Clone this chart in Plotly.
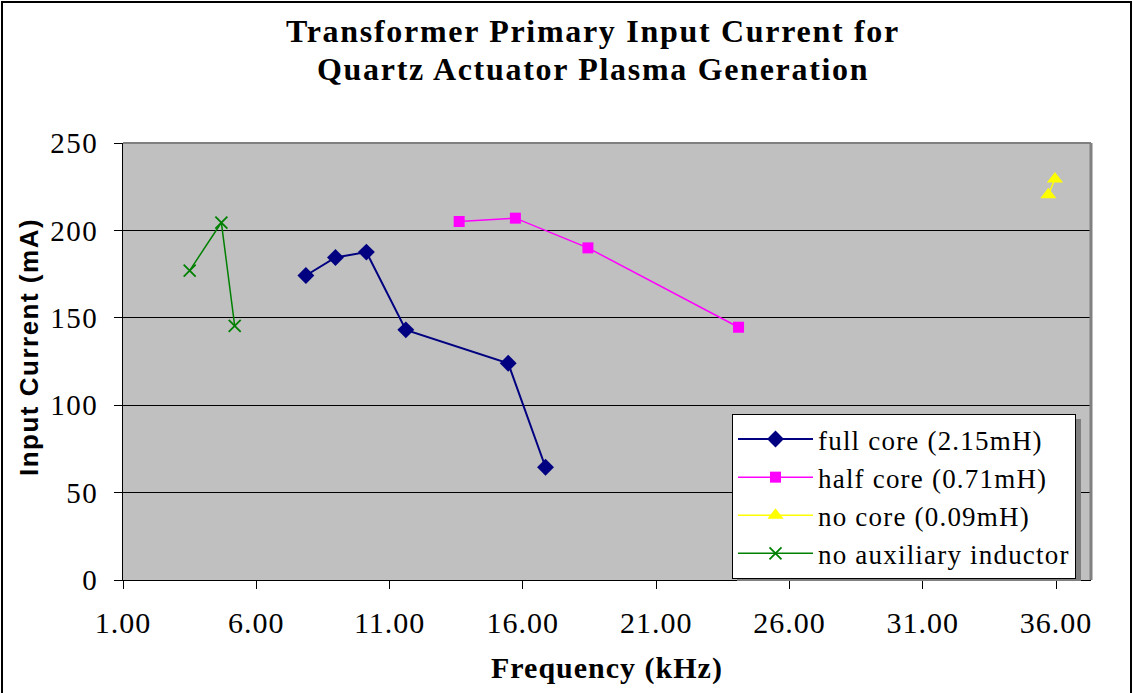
import plotly.graph_objects as go

# Data
full_core_x = [7.86, 8.97, 10.13, 11.61, 15.45, 16.85]
full_core_y = [174.2, 184.5, 187.6, 143.1, 124.0, 64.5]

half_core_x = [13.61, 15.72, 18.44, 24.09]
half_core_y = [205.1, 207.0, 190.0, 144.6]

no_core_x = [35.71, 35.96]
no_core_y = [220.4, 229.4]

no_aux_x = [3.50, 4.69, 5.19]
no_aux_y = [177.0, 204.5, 145.4]

x_ticks = [1, 6, 11, 16, 21, 26, 31, 36]
x_tick_labels = ["1.00", "6.00", "11.00", "16.00", "21.00", "26.00", "31.00", "36.00"]
y_ticks = [0, 50, 100, 150, 200, 250]
y_tick_labels = ["0", "50", "100", "150", "200", "250"]

series_names = ["full core (2.15mH)", "half core (0.71mH)", "no core (0.09mH)", "no auxiliary inductor"]
title_lines = ["Transformer Primary Input Current for", "Quartz Actuator Plasma Generation"]

SERIF = "Liberation Serif, Times New Roman, serif"
SANS = "Liberation Sans, Arial, sans-serif"

def ls(txt, px_):
    return '<span style="letter-spacing:%.1fpx">%s</span>' % (px_, txt)

fig = go.Figure()
fig.add_trace(go.Scatter(x=full_core_x, y=full_core_y, mode="lines+markers",
                         name=ls(series_names[0], 1.2),
                         line=dict(color="#000080", width=2),
                         marker=dict(symbol="diamond", size=13, color="#000080")))
fig.add_trace(go.Scatter(x=half_core_x, y=half_core_y, mode="lines+markers",
                         name=ls(series_names[1], 1.2),
                         line=dict(color="#FF00FF", width=1.5),
                         marker=dict(symbol="square", size=11, color="#FF00FF")))
fig.add_trace(go.Scatter(x=no_core_x, y=no_core_y, mode="lines+markers",
                         name=ls(series_names[2], 1.2),
                         line=dict(color="#FFFF00", width=1.5),
                         marker=dict(symbol="triangle-up", size=14, color="#FFFF00")))
fig.add_trace(go.Scatter(x=no_aux_x, y=no_aux_y, mode="lines+markers",
                         name=ls(series_names[3], 1.2),
                         line=dict(color="#008000", width=1.5),
                         marker=dict(symbol="x-thin", size=12, color="#008000",
                                     line=dict(color="#008000", width=1.8))))

L, R, T, B = 123, 42, 143, 113
W, H = 1133, 693
pw, ph = W - L - R, H - T - B

def px(xp):
    return (xp - L) / pw

def py(yp):
    return (H - B - yp) / ph

fig.update_layout(
    width=W, height=H,
    margin=dict(l=L, r=R, t=T, b=B, pad=0),
    paper_bgcolor="white",
    plot_bgcolor="#C0C0C0",
    xaxis=dict(range=[1, 1 + (1091 - 123.3) / 26.65], tickvals=x_ticks,
               ticktext=[ls(t, 1.0) for t in x_tick_labels],
               showgrid=False, zeroline=False, ticks="outside", ticklen=8, tickcolor="black",
               showline=True, linecolor="black", linewidth=1, ticklabelstandoff=8,
               tickfont=dict(family=SERIF, size=30, color="black")),
    yaxis=dict(range=[0, 250], tickvals=y_ticks, ticktext=[ls(t, 1.5) for t in y_tick_labels],
               showgrid=True, gridcolor="black", gridwidth=1,
               zeroline=False, ticks="outside", ticklen=8, tickcolor="black",
               showline=True, linecolor="black", linewidth=1, ticklabelstandoff=10,
               tickfont=dict(family=SERIF, size=29, color="black")),
    legend=dict(x=px(732), y=py(414), xanchor="left", yanchor="top",
                bgcolor="white", bordercolor="black", borderwidth=1,
                font=dict(family=SERIF, size=27, color="black"),
                itemwidth=75, tracegroupgap=0),
    showlegend=True,
)

# title (two lines)
for txt, yc in zip(title_lines, [31, 69]):
    fig.add_annotation(text="<b>" + ls(txt, 1.7) + "</b>", xref="paper", yref="paper",
                       x=px(593), y=py(yc), xanchor="center", yanchor="middle",
                       showarrow=False,
                       font=dict(family=SERIF, size=32, color="black"))

# axis titles
fig.add_annotation(text="<b>" + ls("Frequency (kHz)", 1.0) + "</b>", xref="paper", yref="paper",
                   x=px(607), y=py(668), xanchor="center", yanchor="middle", showarrow=False,
                   font=dict(family=SERIF, size=30, color="black"))
fig.add_annotation(text="<b>" + ls("Input Current (mA)", 1.5) + "</b>", xref="paper", yref="paper",
                   x=px(29), y=py(347), xanchor="center", yanchor="middle",
                   showarrow=False, textangle=-90,
                   font=dict(family=SANS, size=26, color="black"))

# plot area border (top and right, gray)
fig.add_shape(type="line", xref="paper", yref="paper", x0=0, x1=1, y0=1, y1=1,
              line=dict(color="#808080", width=2), layer="above")
fig.add_shape(type="line", xref="paper", yref="paper", x0=1, x1=1, y0=0, y1=1,
              line=dict(color="#808080", width=3), layer="above")
# legend shadow
fig.add_shape(type="rect", xref="paper", yref="paper",
              x0=px(737), x1=px(1081), y0=py(581), y1=py(419),
              line=dict(width=0), fillcolor="#808080", layer="above")
# chart outer border
fig.add_shape(type="rect", xref="paper", yref="paper",
              x0=px(2), x1=px(1131), y0=py(720), y1=py(2),
              line=dict(color="black", width=2), layer="above")

fig.write_html("out.html")
